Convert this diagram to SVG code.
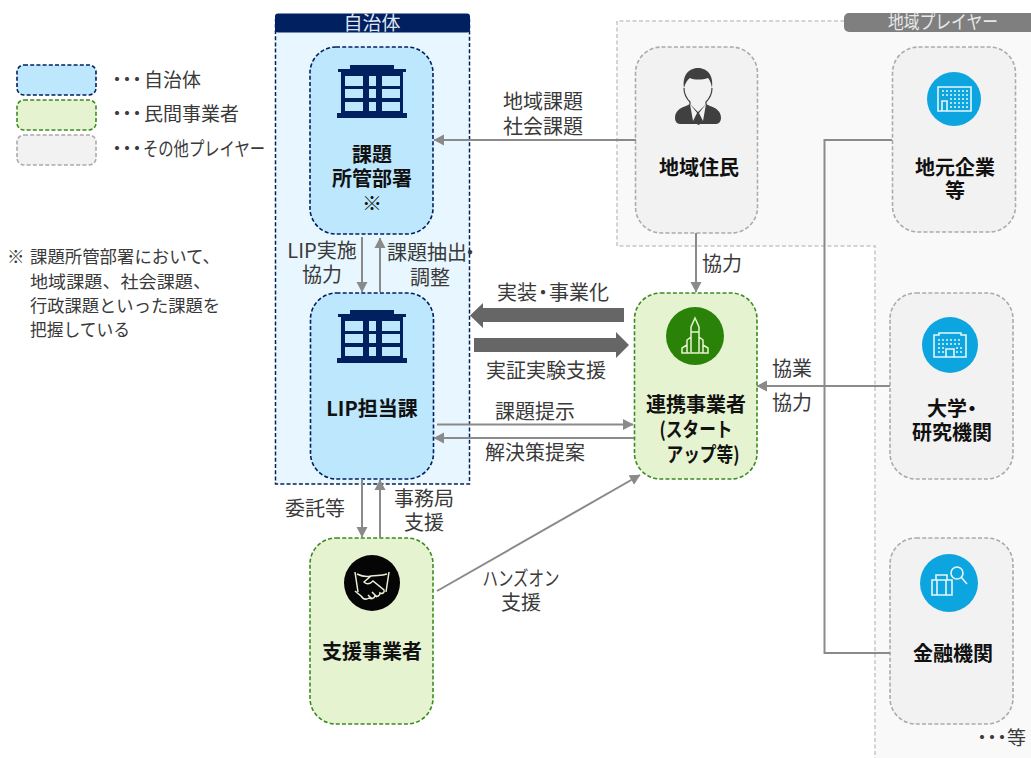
<svg xmlns="http://www.w3.org/2000/svg" xmlns:xlink="http://www.w3.org/1999/xlink" width="1031" height="758" viewBox="0 0 1031 758">
<style>
text{font-family:"Noto Sans CJK JP","Noto Sans",sans-serif;font-size:20px;fill:#3a3a3a;text-anchor:middle}
.b{font-weight:700;fill:#111}
.s{text-anchor:start}
.l{font-size:19px;text-anchor:start}
.n{font-size:17.5px;text-anchor:start}
.d{letter-spacing:-9px}
.blue{fill:#bde7fd;stroke:#002060;stroke-width:1.6;stroke-dasharray:4 2.2}
.green{fill:#e6f3d0;stroke:#3a8c1f;stroke-width:1.6;stroke-dasharray:4 2.2}
.grey{fill:#f2f2f2;stroke:#ababab;stroke-width:1.6;stroke-dasharray:4 2.2}
.c{fill:none;stroke:#8a8a8a;stroke-width:2}
.ic{fill:none;stroke:#e6f6fc;stroke-width:1.6}
</style>
<defs>
<marker id="a" markerUnits="userSpaceOnUse" markerWidth="12" markerHeight="12" refX="10" refY="6" orient="auto"><path d="M0,0.5L10.5,6L0,11.5z" fill="#8a8a8a"/></marker>
<g id="bld"><rect x="350" y="65" width="44" height="5" fill="#002060"/><rect x="338" y="69" width="68" height="3" fill="#002060"/><rect x="341" y="71" width="62" height="44" fill="#002060"/><rect x="337" y="113" width="70" height="5" fill="#002060"/><g fill="#bde7fd"><rect x="345" y="76" width="18" height="10"/><rect x="369" y="76" width="7" height="10"/><rect x="382" y="76" width="18" height="10"/><rect x="345" y="89" width="18" height="9"/><rect x="369" y="89" width="7" height="9"/><rect x="382" y="89" width="18" height="9"/><rect x="345" y="102" width="18" height="9"/><rect x="369" y="102" width="7" height="9"/><rect x="382" y="102" width="18" height="9"/></g></g>
</defs>
<rect width="1031" height="758" fill="#fff"/>

<g id="region-player"><path d="M1033,21H617V246H875V762H1033z" fill="#f9f9f9" stroke="#c6c6c6" stroke-width="1.5" stroke-dasharray="4 2.5"/><path d="M1031,13H849a5,5 0 0 0-5,5v9a5,5 0 0 0 5,5H1031z" fill="#7f7f7f"/><text x="943" y="29" style="fill:#e8e8e8;font-size:19px" textLength="110" lengthAdjust="spacingAndGlyphs">地域プレイヤー</text></g>

<g id="region-gov"><rect x="275.500" y="20" width="194" height="464" fill="#e8f7ff" stroke="#002060" stroke-width="1.5" stroke-dasharray="4 2.2"/><rect x="275" y="13.500" width="195" height="19" rx="3" fill="#002060"/><text x="372" y="30" style="fill:#dfe5f0;font-size:19px">自治体</text></g>

<g id="legend"><rect x="17" y="65" width="79" height="30" rx="7" class="blue"/><rect x="17" y="100" width="79" height="30" rx="7" class="green"/><rect x="17" y="135" width="79" height="30" rx="7" class="grey"/>
<text class="l" x="107.500" y="87"><tspan class="d">・・・</tspan><tspan x="144">自治体</tspan></text>
<text class="l" x="107.500" y="121"><tspan class="d">・・・</tspan><tspan x="144">民間事業者</tspan></text>
<text class="l" x="107.500" y="156"><tspan class="d">・・・</tspan><tspan x="143" textLength="122" lengthAdjust="spacingAndGlyphs">その他プレイヤー</tspan></text></g>

<g id="note"><text class="n" x="7" y="263">※<tspan x="30" textLength="190" lengthAdjust="spacingAndGlyphs">課題所管部署において、</tspan></text><text class="n" x="30" y="288" textLength="181" lengthAdjust="spacingAndGlyphs">地域課題、社会課題、</text><text class="n" x="30" y="312" textLength="190" lengthAdjust="spacingAndGlyphs">行政課題といった課題を</text><text class="n" x="30" y="336" textLength="100" lengthAdjust="spacingAndGlyphs">把握している</text></g>

<g id="n-kadai"><rect x="310" y="47" width="123" height="187" rx="26" class="blue"/><use xlink:href="#bld" href="#bld"/><text class="b" x="372" y="162">課題<tspan x="372" dy="23.500">所管部署</tspan><tspan x="372" dy="25.500" style="font-weight:400">※</tspan></text></g>

<g id="n-lip"><rect x="310.500" y="293" width="123" height="186" rx="26" class="blue"/><use xlink:href="#bld" href="#bld" y="245"/><text class="b" x="372" y="416">LIP担当課</text></g>

<g id="n-shien"><rect x="310" y="538" width="123" height="186" rx="26" class="green"/><circle cx="372" cy="583" r="28" fill="#050505"/><g fill="none" stroke="#e8f0d8" stroke-width="1.500"><path d="M355,572l3,20M389,572l-3,20M357,574c6,3 10,3 14,2l-7,6c3,3 6,2 9,-1l11,9c1,3-2,4-4,3c0,3-3,4-5,3c-1,3-4,3-6,2c-3,2-6,1-8,-2l-6,-5"/><path d="M387,574c-6,2-10,1-16,2M372,592l5,5M368,595l4,4"/></g><text class="b" x="372" y="659">支援事業者</text></g>

<g id="n-jumin"><rect x="635.500" y="47" width="122" height="186" rx="26" class="grey"/><g fill="#404040"><path d="M675,118c0-7 5-10 11-12l4-2 7,10 1,10h-18c-3,0-5-3-5-6zM721,118c0-7-5-10-11-12l-4-2-7,10-1,10h18c3,0 5-3 5-6z"/><path d="M696,111h5l-1,3 2,9-3.500,2-3.500-2 2-9z"/><path d="M684,88c-2-14 6-20 14-20s16,6 14,20c-1-5-2-8-4-10-6,2-14,2-18,0-3,2-5,6-6,10z"/></g><path d="M684,88c0,7 3,11 6,14v3l8,8 8-8v-3c3-3 6-7 6-14" fill="#f2f2f2" stroke="#404040" stroke-width="1.200"/><path d="M690,104l7,9 -4,8zM706,104l-7,9 4,8z" fill="#f2f2f2"/><text class="b" x="699" y="175">地域住民</text></g>

<g id="n-jimoto"><rect x="892.500" y="47" width="123" height="185" rx="26" class="grey"/><circle cx="954" cy="99" r="27" fill="#0ca5e0"/><path class="ic" d="M938,87h33v24h-33zM942,111v-10h5v10"/><path d="M942,91h26M942,95h26M950,99h18M950,103h18M950,107h18" stroke="#e6f6fc" stroke-width="1.500" stroke-dasharray="2 2"/><text class="b" x="955" y="175">地元企業<tspan x="955" dy="23">等</tspan></text></g>

<g id="n-renkei"><rect x="634.500" y="293" width="122.500" height="186" rx="26" class="green"/><circle cx="695" cy="336" r="29" fill="#2a8209"/><g fill="none" stroke="#e6f3d0" stroke-width="1.500"><path d="M695,318l-4,9v26h8v-26zM691,332h8M691,337l-4,3v13h3M699,337l4,3v13h-3M687,345l-5,3v5h5M703,345l5,3v5h-5"/></g><text class="b" x="696" y="412">連携事業者<tspan x="696" dy="25" textLength="73" lengthAdjust="spacingAndGlyphs">(スタート</tspan><tspan x="703" dy="25" textLength="73" lengthAdjust="spacingAndGlyphs">アップ等)</tspan></text></g>

<g id="n-daigaku"><rect x="890" y="293" width="123" height="186" rx="26" class="grey"/><circle cx="950" cy="345" r="28" fill="#0ca5e0"/><path class="ic" d="M934,335h5v-2h22v2h5v22h-32zM946,357v-8h8v8"/><path d="M938,340h24M938,344h24M938,348h6M956,348h6M938,352h6M956,352h6" stroke="#e6f6fc" stroke-width="1.500" stroke-dasharray="2 2"/><text class="b s" x="927" y="416">大学<tspan dx="-5">・</tspan><tspan x="952" dy="24" text-anchor="middle">研究機関</tspan></text></g>

<g id="n-kinyu"><rect x="890" y="538" width="123" height="186" rx="26" class="grey"/><circle cx="949" cy="583" r="29" fill="#0ca5e0"/><g class="ic"><path d="M932,580h20v15h-20zM936,580v-5h11v5M937,580v15M946,580v15"/><circle cx="957" cy="573" r="6"/><path d="M961,577l6,7"/></g><text class="b" x="953" y="661">金融機関</text></g>

<text id="etc" class="l" x="972.500" y="745"><tspan class="d">・・・</tspan><tspan x="1007">等</tspan></text>

<g id="connectors">
<path class="c" marker-end="url(#a)" d="M636,140H434"/>
<path class="c" marker-end="url(#a)" d="M362,237V292"/>
<path class="c" marker-end="url(#a)" d="M380,292V238"/>
<path class="c" marker-end="url(#a)" d="M696,233V292"/>
<path d="M624,308H483V303L470,315.500 483,328V322H624z" fill="#666"/>
<path d="M474,338H616V332L629,345 616,358V352H474z" fill="#666"/>
<path class="c" marker-end="url(#a)" d="M437,424.500H633"/>
<path class="c" marker-end="url(#a)" d="M634,438H434"/>
<path class="c" marker-end="url(#a)" d="M890,386H757"/>
<path class="c" d="M892,140H824.500V653H890"/>
<path class="c" marker-end="url(#a)" d="M362,479V537"/>
<path class="c" marker-end="url(#a)" d="M380,538V480"/>
<path class="c" marker-end="url(#a)" d="M437,591L640,475"/>
</g>

<g id="labels">
<text x="543" y="109">地域課題<tspan x="543" dy="25">社会課題</tspan></text>
<text x="322" y="258">LIP実施<tspan x="322" dy="24">協力</tspan></text>
<text class="s" x="387" y="260">課題抽出<tspan dx="-7">・</tspan><tspan x="430" dy="25" text-anchor="middle">調整</tspan></text>
<text x="722" y="271">協力</text>
<text x="553" y="300">実装<tspan dx="-4">・</tspan><tspan dx="-4">事業化</tspan></text>
<text x="546" y="378">実証実験支援</text>
<text x="535" y="419">課題提示</text>
<text x="535" y="460">解決策提案</text>
<text x="792" y="376">協業<tspan x="792" dy="34">協力</tspan></text>
<text x="315" y="516">委託等</text>
<text x="424" y="506">事務局<tspan x="424" dy="24">支援</tspan></text>
<text x="521" y="586"><tspan textLength="77" lengthAdjust="spacingAndGlyphs">ハンズオン</tspan><tspan x="521" dy="24">支援</tspan></text>
</g>
</svg>
